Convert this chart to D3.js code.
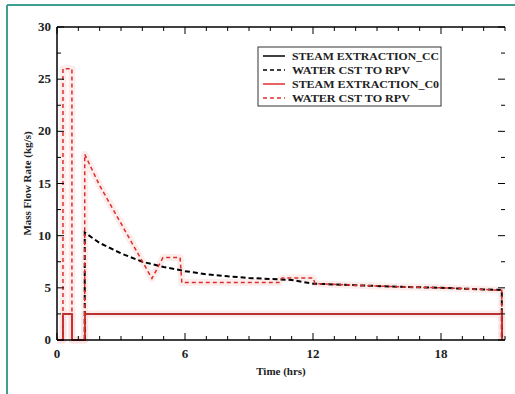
<!DOCTYPE html>
<html><head><meta charset="utf-8">
<script src="https://cdn.jsdelivr.net/npm/d3@7"></script>
<style>body{margin:0;background:#fff}svg{display:block}</style>
</head><body>
<script>
// ---- data ----
const steamCCTime = [0, 0.28, 0.28, 0.7, 0.7, 1.3, 1.3, 20.85, 20.85];
const steamCCFlow = [0, 0, 2.5, 2.5, 0, 0, 2.5, 2.5, 0];
const waterCCTime = [1.3, 1.3, 2, 3, 4, 5, 6, 7, 8, 9, 10, 11, 12, 14, 16, 18, 20, 20.85, 20.85];
const waterCCFlow = [0, 10.3, 9.3, 8.3, 7.5, 7.0, 6.6, 6.3, 6.1, 5.95, 5.85, 5.75, 5.4, 5.25, 5.1, 5.0, 4.85, 4.8, 0];
const steamC0Time = [0, 0.28, 0.28, 0.7, 0.7, 1.3, 1.3, 20.85, 20.85];
const steamC0Flow = [0, 0, 2.5, 2.5, 0, 0, 2.5, 2.5, 0];
const waterC0Time = [0, 0.28, 0.28, 0.7, 0.7, 1.3, 1.3, 2.0, 4.45, 4.97, 5.77, 5.85, 10.4, 10.55, 12.0, 12.1, 14, 16, 18, 20, 20.85, 20.85];
const waterC0Flow = [0, 0, 26, 26, 0, 0, 17.8, 14.8, 5.9, 7.9, 7.9, 5.5, 5.5, 5.95, 5.95, 5.4, 5.25, 5.1, 5.0, 4.85, 4.75, 0];
const xTicks = [0, 6, 12, 18];
const yTicks = [0, 5, 10, 15, 20, 25, 30];
const legendLabels = ["STEAM EXTRACTION_CC", "WATER CST TO RPV", "STEAM EXTRACTION_C0", "WATER CST TO RPV"];
const xTitle = "Time (hrs)";
const yTitle = "Mass Flow Rate (kg/s)";

const W = 515, H = 394;
const svg = d3.select("body").append("svg").attr("width", W).attr("height", H);
const font = "'Liberation Serif','Times New Roman',serif";

// frame (top + left teal)
svg.append("line").attr("x1", 7).attr("x2", W).attr("y1", 5).attr("y2", 5).attr("stroke", "#3f9e8f").attr("stroke-width", 2);
svg.append("line").attr("x1", 7).attr("x2", 7).attr("y1", 5).attr("y2", H).attr("stroke", "#3f9e8f").attr("stroke-width", 2);

const x = d3.scaleLinear().domain([0, 21]).range([57, 505]);
const y = d3.scaleLinear().domain([0, 30]).range([340, 27]);

const line = d3.line().x(d => x(d[0])).y(d => y(d[1]));
const zip = (a, b) => a.map((v, i) => [v, b[i]]);

const plot = svg.append("g");
// faint pink halo behind red series
[zip(steamC0Time, steamC0Flow), zip(waterC0Time, waterC0Flow)].forEach(d => {
  plot.append("path").attr("d", line(d)).attr("fill", "none").attr("stroke", "#fbdcdc").attr("stroke-width", 7).attr("stroke-opacity", 0.55).attr("stroke-linejoin", "round");
});
plot.append("path").attr("d", line(zip(steamCCTime, steamCCFlow))).attr("fill", "none").attr("stroke", "#000").attr("stroke-width", 1.5);
plot.append("path").attr("d", line(zip(waterCCTime, waterCCFlow))).attr("fill", "none").attr("stroke", "#000").attr("stroke-width", 2).attr("stroke-dasharray", "5,3");
plot.append("path").attr("d", line(zip(steamC0Time, steamC0Flow))).attr("fill", "none").attr("stroke", "#e0302f").attr("stroke-width", 1.5);
plot.append("path").attr("d", line(zip(waterC0Time, waterC0Flow))).attr("fill", "none").attr("stroke", "#d9302c").attr("stroke-width", 1.5).attr("stroke-dasharray", "4,3");

// axes
const ax = svg.append("g").attr("stroke", "#000");
ax.append("line").attr("x1", x(0)).attr("x2", x(21)).attr("y1", y(0)).attr("y2", y(0)).attr("stroke-width", 1.5);
ax.append("line").attr("x1", x(0)).attr("x2", x(21)).attr("y1", y(30)).attr("y2", y(30)).attr("stroke-width", 1.5);
ax.append("line").attr("x1", x(0)).attr("x2", x(0)).attr("y1", y(0)).attr("y2", y(30)).attr("stroke-width", 1.5);

const xMinor = d3.range(0, 22, 1);
xMinor.forEach(t => {
  const len = t % 6 === 0 ? 7 : 4;
  ax.append("line").attr("x1", x(t)).attr("x2", x(t)).attr("y1", y(0)).attr("y2", y(0) - len);
  ax.append("line").attr("x1", x(t)).attr("x2", x(t)).attr("y1", y(30)).attr("y2", y(30) + len);
});
const yMinor = d3.range(0, 30.1, 2.5);
yMinor.forEach(v => {
  const len = v % 5 === 0 ? 7 : 4;
  ax.append("line").attr("x1", x(0)).attr("x2", x(0) + len).attr("y1", y(v)).attr("y2", y(v));
  ax.append("line").attr("x1", x(21)).attr("x2", x(21) - len).attr("y1", y(v)).attr("y2", y(v));
});

const tl = svg.append("g").attr("font-family", font).attr("font-weight", "bold").attr("font-size", 13).attr("fill", "#222");
xTicks.forEach(t => tl.append("text").attr("x", x(t)).attr("y", y(0) + 18).attr("text-anchor", "middle").text(t));
yTicks.forEach(v => tl.append("text").attr("x", x(0) - 6).attr("y", y(v) + 4).attr("text-anchor", "end").text(v));

svg.append("text").attr("x", (x(0) + x(21)) / 2).attr("y", 375).attr("text-anchor", "middle")
  .attr("font-family", font).attr("font-weight", "bold").attr("font-size", 11).attr("fill", "#222").text(xTitle);
svg.append("text").attr("transform", `translate(31,${(y(0) + y(30)) / 2}) rotate(-90)`).attr("text-anchor", "middle")
  .attr("font-family", font).attr("font-weight", "bold").attr("font-size", 11).attr("fill", "#222").text(yTitle);

// legend
const lg = svg.append("g");
lg.append("rect").attr("x", 258).attr("y", 47).attr("width", 183).attr("height", 59).attr("fill", "#fff").attr("stroke", "#333").attr("stroke-width", 1);
const styles = [
  {c: "#000", dash: null},
  {c: "#000", dash: "4,3"},
  {c: "#e0302f", dash: null},
  {c: "#e0302f", dash: "4,3"}
];
legendLabels.forEach((lab, i) => {
  const yy = 56 + i * 14;
  lg.append("line").attr("x1", 263).attr("x2", 285).attr("y1", yy).attr("y2", yy)
    .attr("stroke", styles[i].c).attr("stroke-width", 1.5).attr("stroke-dasharray", styles[i].dash);
  lg.append("text").attr("x", 292).attr("y", yy + 4).attr("font-family", font).attr("font-weight", "bold")
    .attr("font-size", 11).attr("fill", "#222").attr("lengthAdjust", "spacingAndGlyphs")
    .attr("textLength", i % 2 === 0 ? 147 : 118).text(lab);
});
</script>
</body></html>
